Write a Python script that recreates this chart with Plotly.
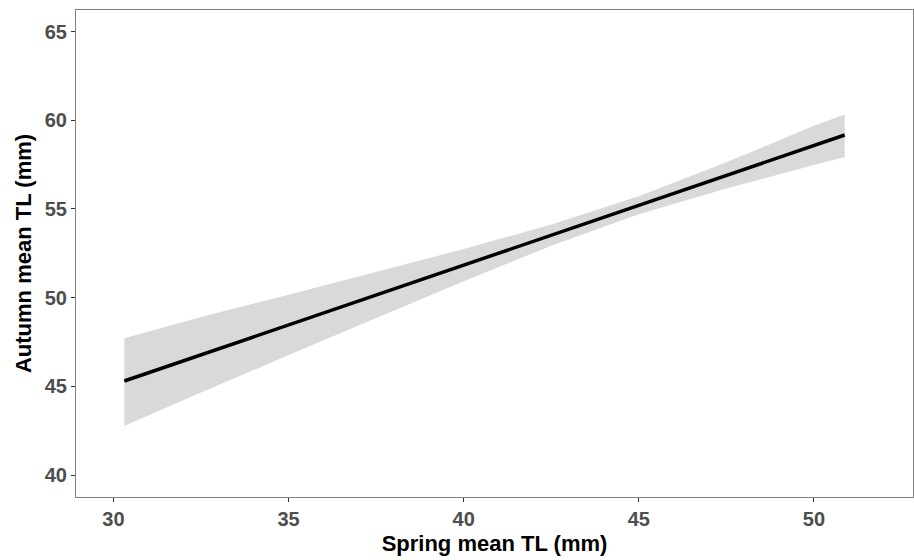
import plotly.graph_objects as go

# Fitted regression of autumn on spring mean total length, with 95% band
spring_tl = [30.31, 32.5, 35.0, 37.5, 40.0, 42.5, 45.0, 47.5, 50.0, 50.88]
fit_tl = [45.30, 46.78, 48.46, 50.15, 51.83, 53.52, 55.21, 56.89, 58.58, 59.17]
upper_tl = [47.71, 48.91, 50.17, 51.45, 52.74, 54.12, 55.72, 57.63, 59.69, 60.33]
lower_tl = [42.76, 44.65, 46.76, 48.86, 50.92, 52.93, 54.70, 56.15, 57.48, 57.93]

x_ticks = [30, 35, 40, 45, 50]
y_ticks = [40, 45, 50, 55, 60, 65]

FONT = "Liberation Sans, Arial, sans-serif"

fig = go.Figure()

# confidence band as a closed polygon
fig.add_trace(go.Scatter(
    x=spring_tl + spring_tl[::-1],
    y=upper_tl + lower_tl[::-1],
    fill="toself",
    fillcolor="#D9D9D9",
    line=dict(width=0),
    mode="lines",
    hoverinfo="skip",
    showlegend=False,
))

# fitted line
fig.add_trace(go.Scatter(
    x=spring_tl,
    y=fit_tl,
    mode="lines",
    line=dict(color="#000000", width=3.5),
    showlegend=False,
))

axis_common = dict(
    showgrid=False,
    zeroline=False,
    showline=True,
    linecolor="#7F7F7F",
    linewidth=1.2,
    mirror=True,
    ticks="outside",
    ticklen=4,
    tickwidth=1,
    tickcolor="#333333",
    tickfont=dict(family=FONT, size=20, color="#4D4D4D", weight="bold"),
)

fig.update_xaxes(
    range=[28.93, 52.83],
    tickvals=x_ticks,
    ticktext=[str(v) for v in x_ticks],
    title=dict(text="Spring mean TL (mm)", standoff=6,
               font=dict(family=FONT, size=22, color="#000000", weight="bold")),
    **axis_common,
)
fig.update_yaxes(
    range=[38.76, 66.22],
    tickvals=y_ticks,
    ticktext=[str(v) for v in y_ticks],
    title=dict(text="Autumn mean TL (mm)", standoff=6,
               font=dict(family=FONT, size=22, color="#000000", weight="bold")),
    **axis_common,
)

fig.update_layout(
    width=914,
    height=560,
    margin=dict(l=76, r=1, t=10, b=63),
    paper_bgcolor="white",
    plot_bgcolor="white",
)

fig.write_html("out.html")
